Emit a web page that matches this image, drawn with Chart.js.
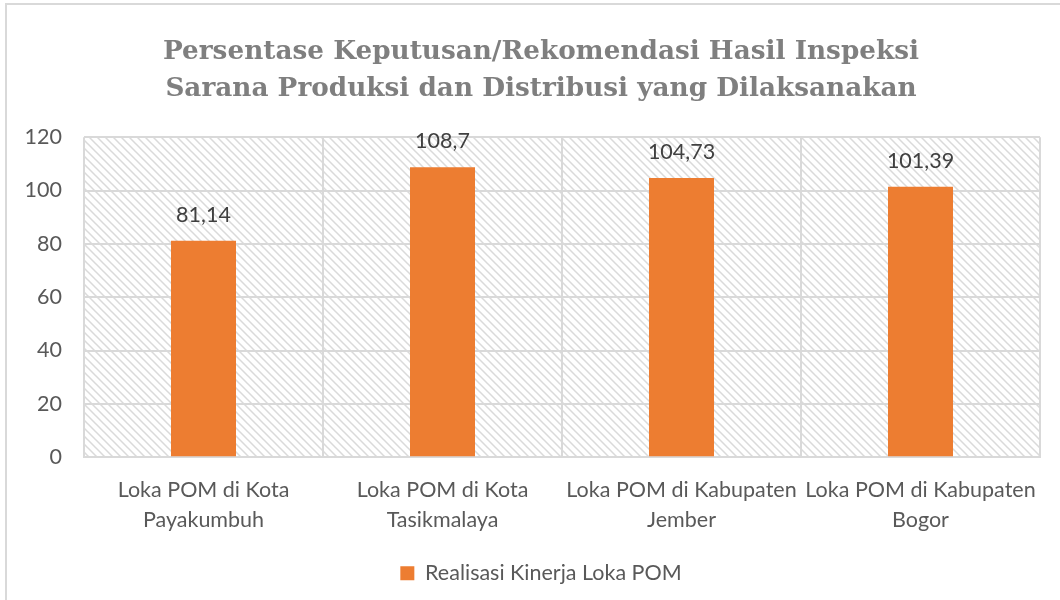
<!DOCTYPE html>
<html>
<head>
<meta charset="utf-8">
<script src="https://cdn.jsdelivr.net/npm/chart.js@4/dist/chart.umd.min.js"></script>
<style>
  html, body { margin: 0; padding: 0; background: #fff; }
  #wrap { position: relative; width: 1060px; height: 600px; }
  #frame { position: absolute; left: 5px; top: 3px; width: 1070px; height: 610px; border: 2px solid #d9d9d9; box-sizing: border-box; pointer-events: none; }
  canvas { position: absolute; left: 0; top: 0; }
</style>
</head>
<body>
<div id="wrap">
  <canvas id="c" width="1060" height="600"></canvas>
  <div id="frame"></div>
</div>
<script>
const titleLines = ["Persentase Keputusan/Rekomendasi Hasil Inspeksi", "Sarana Produksi dan Distribusi yang Dilaksanakan"];
const categories = [
  ["Loka POM di Kota", "Payakumbuh"],
  ["Loka POM di Kota", "Tasikmalaya"],
  ["Loka POM di Kabupaten", "Jember"],
  ["Loka POM di Kabupaten", "Bogor"]
];
const seriesName = "Realisasi Kinerja Loka POM";
const values = [81.14, 108.7, 104.73, 101.39];
const yTicks = { min: 0, max: 120, step: 20 };

const FONT = "Lato, 'Open Sans', sans-serif";
const FS = 21.5;

function makeHatch() {
  const s = 8;
  const p = document.createElement('canvas');
  p.width = s; p.height = s;
  const g = p.getContext('2d');
  g.fillStyle = '#ffffff';
  g.fillRect(0, 0, s, s);
  g.strokeStyle = '#dadada';
  g.lineWidth = 1.5;
  g.beginPath();
  g.moveTo(-2, -2); g.lineTo(s + 2, s + 2);
  g.moveTo(-2 - s, -2); g.lineTo(2, s + 2);
  g.moveTo(s - 2, -2); g.lineTo(2 * s + 2, s + 2);
  g.stroke();
  return p;
}

const hatchPlugin = {
  id: 'hatch',
  afterLayout(chart) {
    // let the y tick labels extend into the left padding without clipping
    chart.scales.y.left = 0;
  },
  beforeDraw(chart) {
    const { ctx, chartArea: a } = chart;
    ctx.save();
    ctx.fillStyle = ctx.createPattern(makeHatch(), 'repeat');
    ctx.fillRect(a.left, a.top, a.right - a.left, a.bottom - a.top);
    ctx.restore();
  }
};

const labelPlugin = {
  id: 'valueLabels',
  afterDatasetsDraw(chart) {
    const { ctx } = chart;
    const meta = chart.getDatasetMeta(0);
    ctx.save();
    ctx.font = FS + "px " + FONT;
    ctx.fillStyle = '#404040';
    ctx.textAlign = 'center';
    ctx.textBaseline = 'middle';
    meta.data.forEach((bar, i) => {
      const txt = String(values[i]).replace('.', ',');
      ctx.fillText(txt, bar.x, bar.y - 26);
    });
    ctx.restore();
  }
};

new Chart(document.getElementById('c'), {
  type: 'bar',
  data: {
    labels: categories,
    datasets: [{
      label: seriesName,
      data: values,
      backgroundColor: '#ED7D31',
      borderWidth: 0,
      categoryPercentage: 1.0,
      barPercentage: 0.272
    }]
  },
  options: {
    responsive: false,
    animation: false,
    devicePixelRatio: 1,
    layout: { padding: { left: 42, right: 20, top: 8, bottom: 6 } },
    plugins: {
      title: {
        display: true,
        text: titleLines,
        color: '#7f7f7f',
        font: { family: "'DejaVu Serif', serif", size: 26.3, weight: 'bold', lineHeight: 1.43 },
        padding: { top: 25, bottom: 29 }
      },
      legend: {
        position: 'bottom',
        labels: {
          color: '#595959',
          font: { family: FONT, size: FS },
          boxWidth: 14, boxHeight: 14,
          padding: 10
        }
      },
      tooltip: { enabled: false }
    },
    scales: {
      x: {
        grid: { color: '#d9d9d9', lineWidth: 2, drawTicks: false, offset: true },
        border: { color: '#d9d9d9', width: 2 },
        ticks: { color: '#595959', font: { family: FONT, size: FS, lineHeight: 1.38 }, padding: 18, maxRotation: 0 }
      },
      y: {
        min: yTicks.min, max: yTicks.max,
        afterFit(scale) { scale.width = 42; },
        grid: { color: '#d9d9d9', lineWidth: 2, drawTicks: false },
        border: { display: false },
        ticks: { stepSize: yTicks.step, color: '#595959', font: { family: FONT, size: FS }, padding: 22 }
      }
    }
  },
  plugins: [hatchPlugin, labelPlugin]
});
</script>
</body>
</html>
